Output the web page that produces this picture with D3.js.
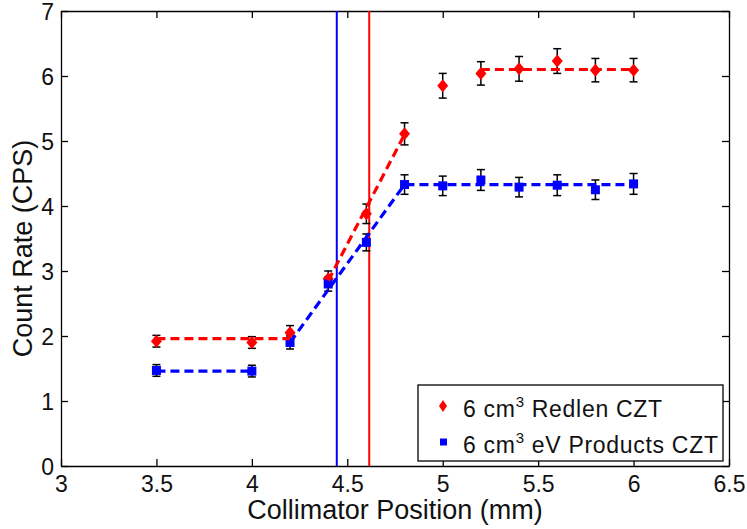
<!DOCTYPE html>
<html>
<head>
<meta charset="utf-8">
<script src="https://cdn.jsdelivr.net/npm/d3@7"></script>
<style>
  body { margin: 0; background: #fff; }
  text { font-family: "Liberation Sans", Arial, sans-serif; }
</style>
</head>
<body>
<svg id="chart"></svg>
<script>
// collimator positions (mm)
const positions = [3.5, 4.0, 4.2, 4.4, 4.6, 4.8, 5.0, 5.2, 5.4, 5.6, 5.8, 6.0];

// measured count rates (CPS) and their error bars
const redlenRate = [1.92, 1.90, 2.05, 2.88, 3.88, 5.11, 5.85, 6.04, 6.11, 6.23, 6.09, 6.09];
const redlenErr  = [0.09, 0.09, 0.11, 0.12, 0.15, 0.17, 0.19, 0.18, 0.19, 0.19, 0.18, 0.18];
const evRate     = [1.47, 1.46, 1.90, 2.80, 3.44, 4.33, 4.31, 4.40, 4.29, 4.32, 4.25, 4.34];
const evErr      = [0.09, 0.09, 0.10, 0.11, 0.13, 0.15, 0.15, 0.16, 0.15, 0.16, 0.15, 0.16];

// piecewise fit segments (x, y)
const redlenFit = [
  [[3.5, 1.96], [4.2, 1.96]],
  [[4.4, 2.85], [4.8, 5.10]],
  [[5.2, 6.10], [6.0, 6.10]]
];
const evFit = [
  [[3.5, 1.46], [4.0, 1.46]],
  [[4.2, 1.90], [4.8, 4.33], [6.0, 4.33]]
];

// vertical edge markers
const redlenEdge = 4.615;
const evEdge = 4.445;

const xTicks = [3, 3.5, 4, 4.5, 5, 5.5, 6, 6.5];
const yTicks = [0, 1, 2, 3, 4, 5, 6, 7];
const seriesNames = ["Redlen CZT", "eV Products CZT"];

const RED = "#ff0000";
const BLUE = "#0000ff";

const margin = { top: 11, right: 18, bottom: 63, left: 61 };
const width = 747 - margin.left - margin.right;
const height = 529 - margin.top - margin.bottom;

const root = d3.select("#chart")
    .attr("width", 747)
    .attr("height", 529);

const svg = root.append("g")
    .attr("transform", `translate(${margin.left},${margin.top})`);

const x = d3.scaleLinear().domain([3, 6.5]).range([0, width]);
const y = d3.scaleLinear().domain([0, 7]).range([height, 0]);

// axes, MATLAB style: ticks inside on all four sides
const styleAxis = g => {
  g.select(".domain").attr("stroke", "#000").attr("stroke-width", 1.3);
  g.selectAll(".tick line").attr("stroke", "#000").attr("stroke-width", 1.3);
  g.selectAll(".tick text").attr("fill", "#111").style("font-size", "23px");
};

svg.append("g")
    .attr("transform", `translate(0,${height})`)
    .call(d3.axisBottom(x).tickValues(xTicks).tickFormat(d3.format("")).tickSizeInner(-7).tickSizeOuter(0).tickPadding(10))
    .call(styleAxis);

svg.append("g")
    .call(d3.axisTop(x).tickValues(xTicks).tickFormat("").tickSizeInner(-7).tickSizeOuter(0))
    .call(styleAxis);

svg.append("g")
    .call(d3.axisLeft(y).tickValues(yTicks).tickFormat(d3.format("")).tickSizeInner(-7).tickSizeOuter(0).tickPadding(7))
    .call(styleAxis)
    .call(g => g.selectAll(".tick text").attr("dy", "0.38em"));

svg.append("g")
    .attr("transform", `translate(${width},0)`)
    .call(d3.axisRight(y).tickValues(yTicks).tickFormat("").tickSizeInner(-7).tickSizeOuter(0))
    .call(styleAxis);

// axis titles
svg.append("text")
    .attr("x", width / 2)
    .attr("y", height + 53)
    .attr("text-anchor", "middle")
    .style("font-size", "27px")
    .attr("fill", "#111")
    .text("Collimator Position (mm)");

svg.append("text")
    .attr("transform", `translate(${-29},${height / 2 + 10}) rotate(-90)`)
    .attr("text-anchor", "middle")
    .style("font-size", "27px")
    .attr("fill", "#111")
    .text("Count Rate (CPS)");

// vertical edge lines
[[evEdge, BLUE], [redlenEdge, RED]].forEach(([v, c]) => {
  svg.append("line")
      .attr("x1", x(v)).attr("x2", x(v))
      .attr("y1", 0).attr("y2", height)
      .attr("stroke", c)
      .attr("stroke-width", 2);
});

// error bars
const drawErrors = (rates, errs) => {
  const g = svg.append("g").attr("stroke", "#000").attr("stroke-width", 1.5);
  positions.forEach((p, i) => {
    const cx = x(p), top = y(rates[i] + errs[i]), bot = y(rates[i] - errs[i]);
    g.append("line").attr("x1", cx).attr("x2", cx).attr("y1", top).attr("y2", bot);
    g.append("line").attr("x1", cx - 4).attr("x2", cx + 4).attr("y1", top).attr("y2", top);
    g.append("line").attr("x1", cx - 4).attr("x2", cx + 4).attr("y1", bot).attr("y2", bot);
  });
};
drawErrors(redlenRate, redlenErr);
drawErrors(evRate, evErr);

// markers
const diamond = (cx, cy, w, h) => `M${cx},${cy - h / 2}L${cx + w / 2},${cy}L${cx},${cy + h / 2}L${cx - w / 2},${cy}Z`;

svg.append("g").selectAll("path")
    .data(positions.map((p, i) => [p, redlenRate[i]]))
    .enter()
    .append("path")
    .attr("d", d => diamond(x(d[0]), y(d[1]), 11, 13))
    .attr("fill", RED);

svg.append("g").selectAll("rect")
    .data(positions.map((p, i) => [p, evRate[i]]))
    .enter()
    .append("rect")
    .attr("x", d => x(d[0]) - 4.5)
    .attr("y", d => y(d[1]) - 4.5)
    .attr("width", 9)
    .attr("height", 9)
    .attr("fill", BLUE);

// dashed fit lines
const line = d3.line().x(d => x(d[0])).y(d => y(d[1]));
const drawFit = (segs, c) => {
  svg.append("g").selectAll("path")
      .data(segs)
      .enter()
      .append("path")
      .attr("d", line)
      .attr("fill", "none")
      .attr("stroke", c)
      .attr("stroke-width", 3.2)
      .attr("stroke-dasharray", "9,5");
};
drawFit(redlenFit, RED);
drawFit(evFit, BLUE);

// legend
const legend = root.append("g").attr("transform", "translate(418,385)");
legend.append("rect")
    .attr("width", 305)
    .attr("height", 76)
    .attr("fill", "#fff")
    .attr("stroke", "#000")
    .attr("stroke-width", 1.3);

const rows = [
  { name: seriesNames[0], color: RED, shape: "diamond" },
  { name: seriesNames[1], color: BLUE, shape: "square" }
];
rows.forEach((r, i) => {
  const cy = 21 + i * 36;
  if (r.shape === "diamond") {
    legend.append("path").attr("d", diamond(25, cy, 8, 12)).attr("fill", r.color);
  } else {
    legend.append("rect").attr("x", 22).attr("y", cy - 3.5).attr("width", 7).attr("height", 7).attr("fill", r.color);
  }
  const t = legend.append("text")
      .attr("x", 45)
      .attr("y", cy + 11)
      .style("font-size", "23px")
      .style("letter-spacing", "0.7px")
      .attr("fill", "#111");
  t.append("tspan").text("6 cm");
  t.append("tspan").attr("dy", -10).style("font-size", "15px").text("3");
  t.append("tspan").attr("dy", 10).text(" " + r.name);
});
</script>
</body>
</html>
